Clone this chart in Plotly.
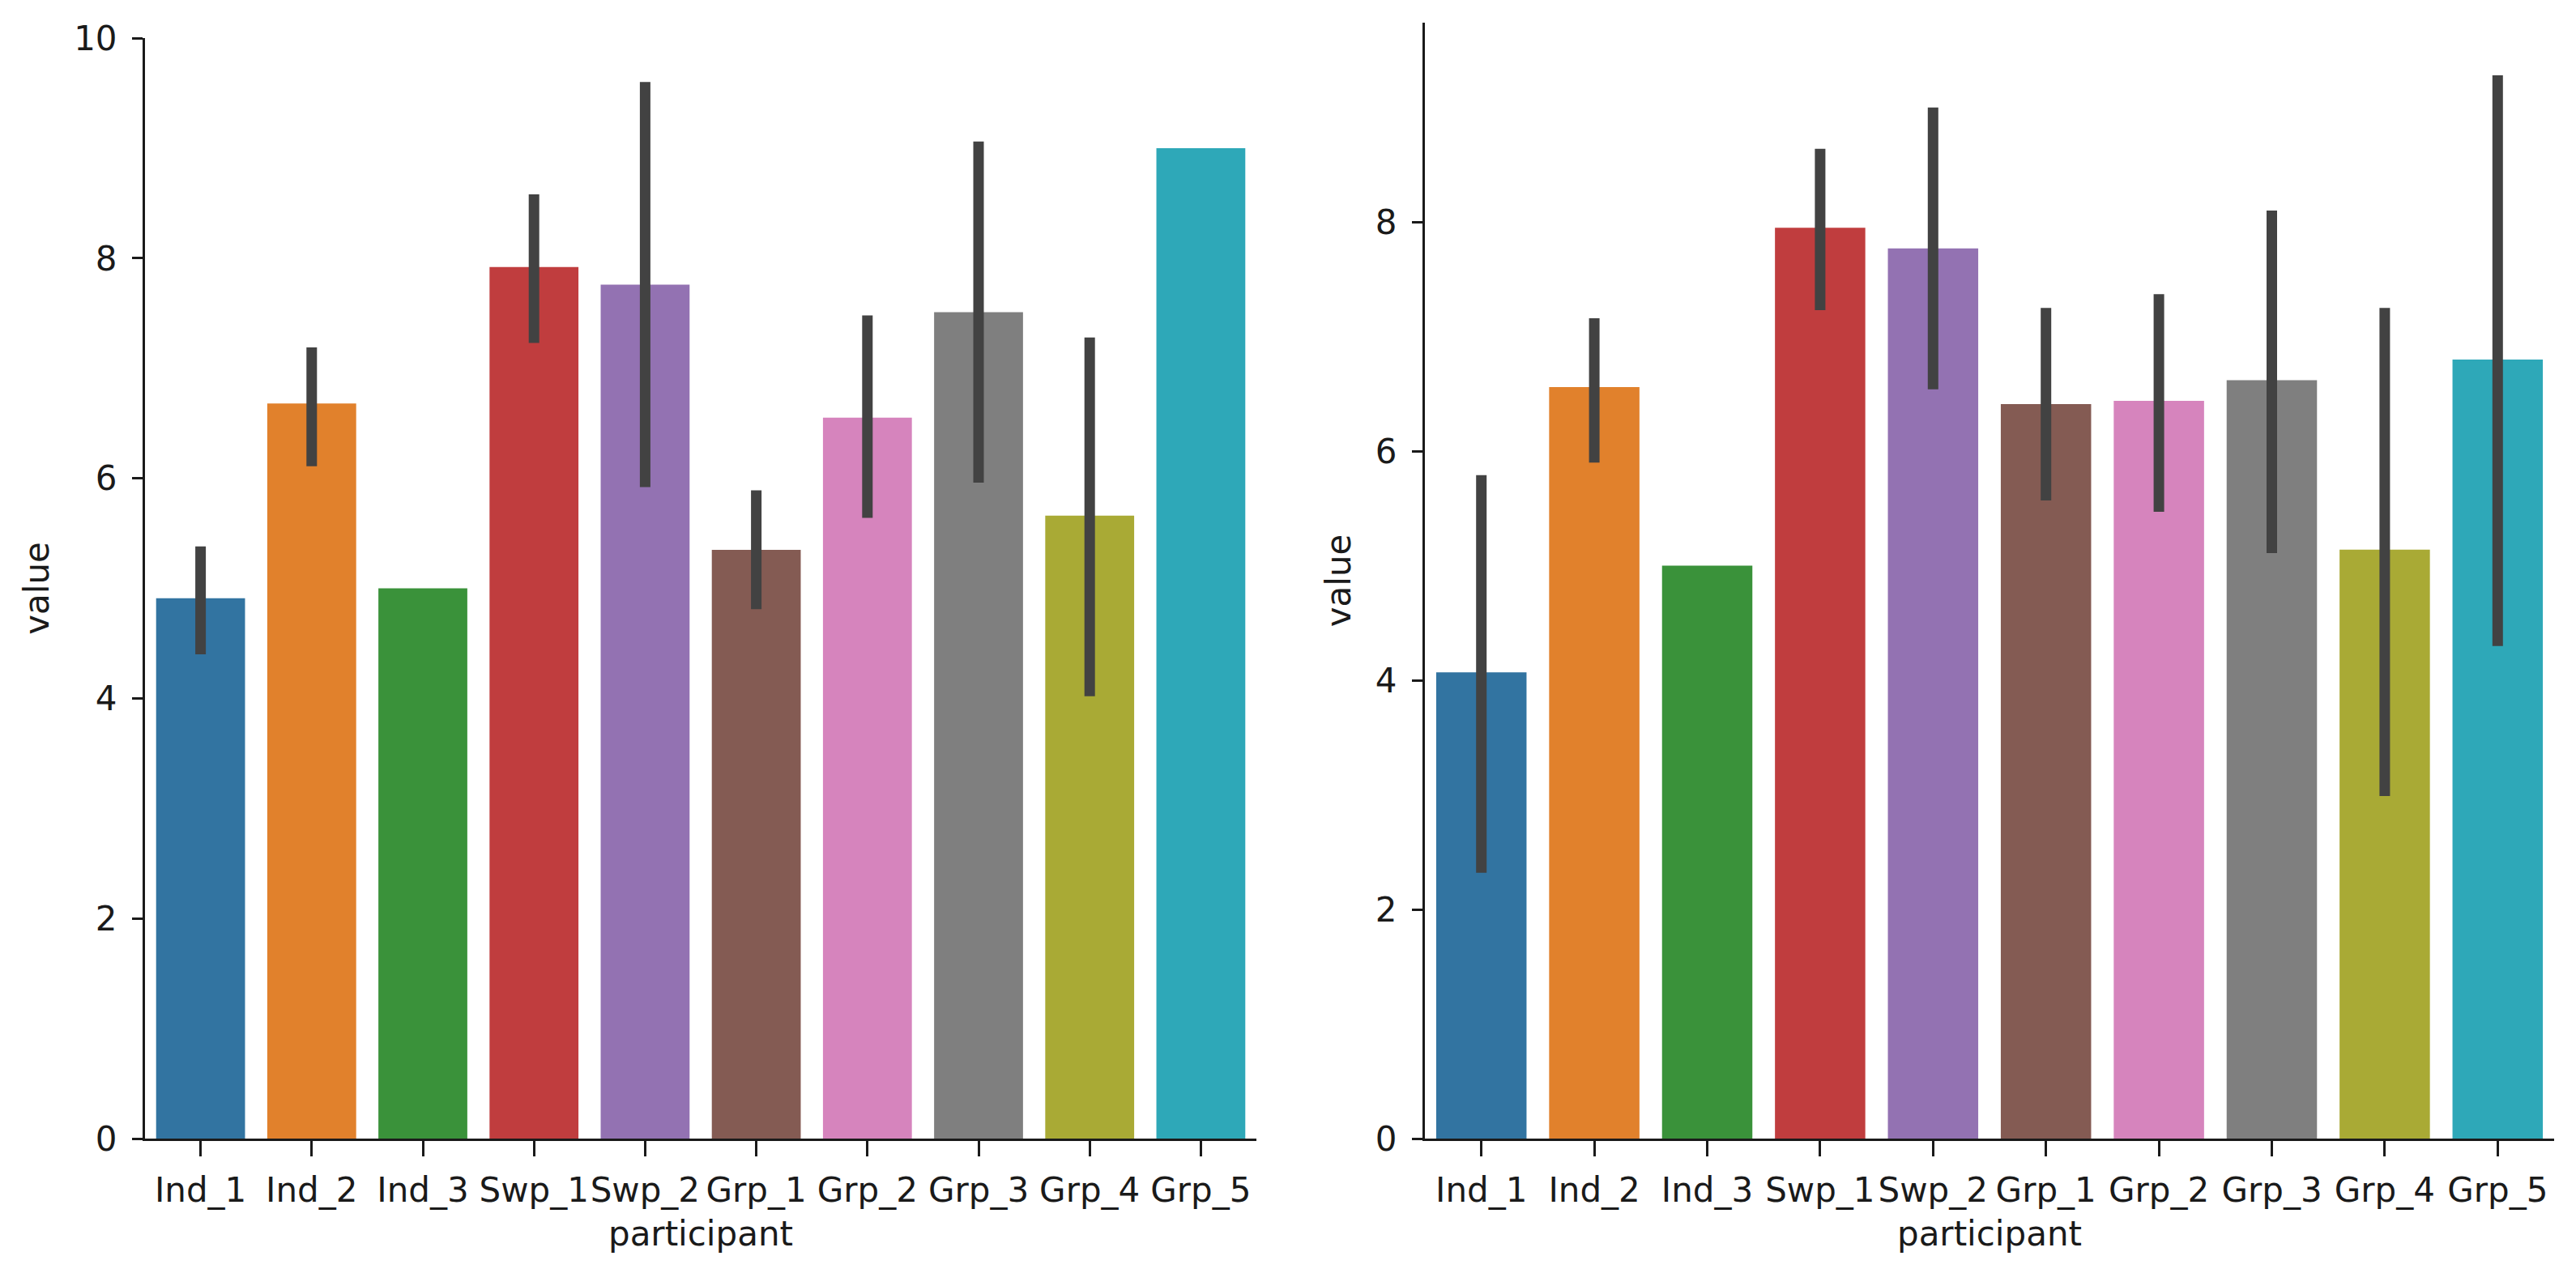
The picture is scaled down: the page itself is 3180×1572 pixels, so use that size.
import plotly.graph_objects as go
from plotly.subplots import make_subplots

participants = ["Ind_1", "Ind_2", "Ind_3", "Swp_1", "Swp_2",
                "Grp_1", "Grp_2", "Grp_3", "Grp_4", "Grp_5"]

# seaborn default palette (desaturated tab10)
colors = ["#3274a1", "#e1812c", "#3a923a", "#c03d3e", "#9372b2",
          "#845b53", "#d684bd", "#7f7f7f", "#a9aa35", "#2ea8b8"]

# left panel: mean and 95% CI bounds
left_mean = [4.91, 6.68, 5.0, 7.92, 7.76, 5.35, 6.55, 7.51, 5.66, 9.0]
left_lo = [4.40, 6.11, 5.0, 7.23, 5.92, 4.81, 5.64, 5.96, 4.02, 9.0]
left_hi = [5.38, 7.19, 5.0, 8.58, 9.60, 5.89, 7.48, 9.06, 7.28, 9.0]

# right panel
right_mean = [4.07, 6.56, 5.0, 7.95, 7.77, 6.41, 6.44, 6.62, 5.14, 6.80]
right_lo = [2.32, 5.90, 5.0, 7.23, 6.54, 5.57, 5.47, 5.11, 2.99, 4.30]
right_hi = [5.79, 7.16, 5.0, 8.64, 9.00, 7.25, 7.37, 8.10, 7.25, 9.28]

# the page body adds an 8px margin, so the figure is a bit smaller
OFF = 8
W, H = 3180 - OFF, 1572 - OFF
FONT = "DejaVu Sans"
INK = "#1a1a1a"

fig = make_subplots(rows=1, cols=2, horizontal_spacing=0.07)


def add_panel(col, mean, lo, hi):
    fig.add_trace(
        go.Bar(
            x=participants,
            y=mean,
            marker=dict(color=colors, line=dict(width=0)),
            error_y=dict(
                type="data",
                symmetric=False,
                array=[h - m for h, m in zip(hi, mean)],
                arrayminus=[m - l for m, l in zip(mean, lo)],
                color="#424242",
                thickness=13,
                width=0,
            ),
            showlegend=False,
        ),
        row=1,
        col=col,
    )


add_panel(1, left_mean, left_lo, left_hi)
add_panel(2, right_mean, right_lo, right_hi)

# plot-area edges, in page pixels
x_left, x_right, y_top, y_bottom = 179, 3153, 28, 1406
ml, mr = x_left - OFF, 3180 - x_right
mt, mb = y_top - OFF, 1572 - y_bottom
pw = W - ml - mr
ph = H - mt - mb

axis_common = dict(
    showline=True,
    linecolor=INK,
    linewidth=3,
    ticks="outside",
    tickcolor=INK,
    tickwidth=3,
    showgrid=False,
    zeroline=False,
    automargin=False,
    tickfont=dict(family=FONT, size=42, color=INK),
)

fig.update_xaxes(
    **axis_common,
    ticklen=19,
    tickangle=0,
    ticklabelstandoff=6,
    range=[-0.5, 9.5],
    title=dict(text="participant", font=dict(family=FONT, size=42, color=INK), standoff=16),
)
fig.update_yaxes(
    **axis_common,
    ticklen=13,
    ticklabelstandoff=10,
    dtick=2,
    title=dict(text="value", font=dict(family=FONT, size=42, color=INK), standoff=18),
)

fig.update_layout(
    xaxis=dict(domain=[0, (1551 - x_left) / pw]),
    xaxis2=dict(domain=[(1759 - x_left) / pw, 1]),
    yaxis=dict(domain=[0, (y_bottom - 47) / ph], range=[0, 10]),
    yaxis2=dict(domain=[0, 1], range=[0, 9.74]),
    bargap=0.2,
    width=W,
    height=H,
    margin=dict(l=ml, r=mr, t=mt, b=mb),
    plot_bgcolor="white",
    paper_bgcolor="white",
    font=dict(family=FONT, color=INK),
)

fig.write_html("out.html")
